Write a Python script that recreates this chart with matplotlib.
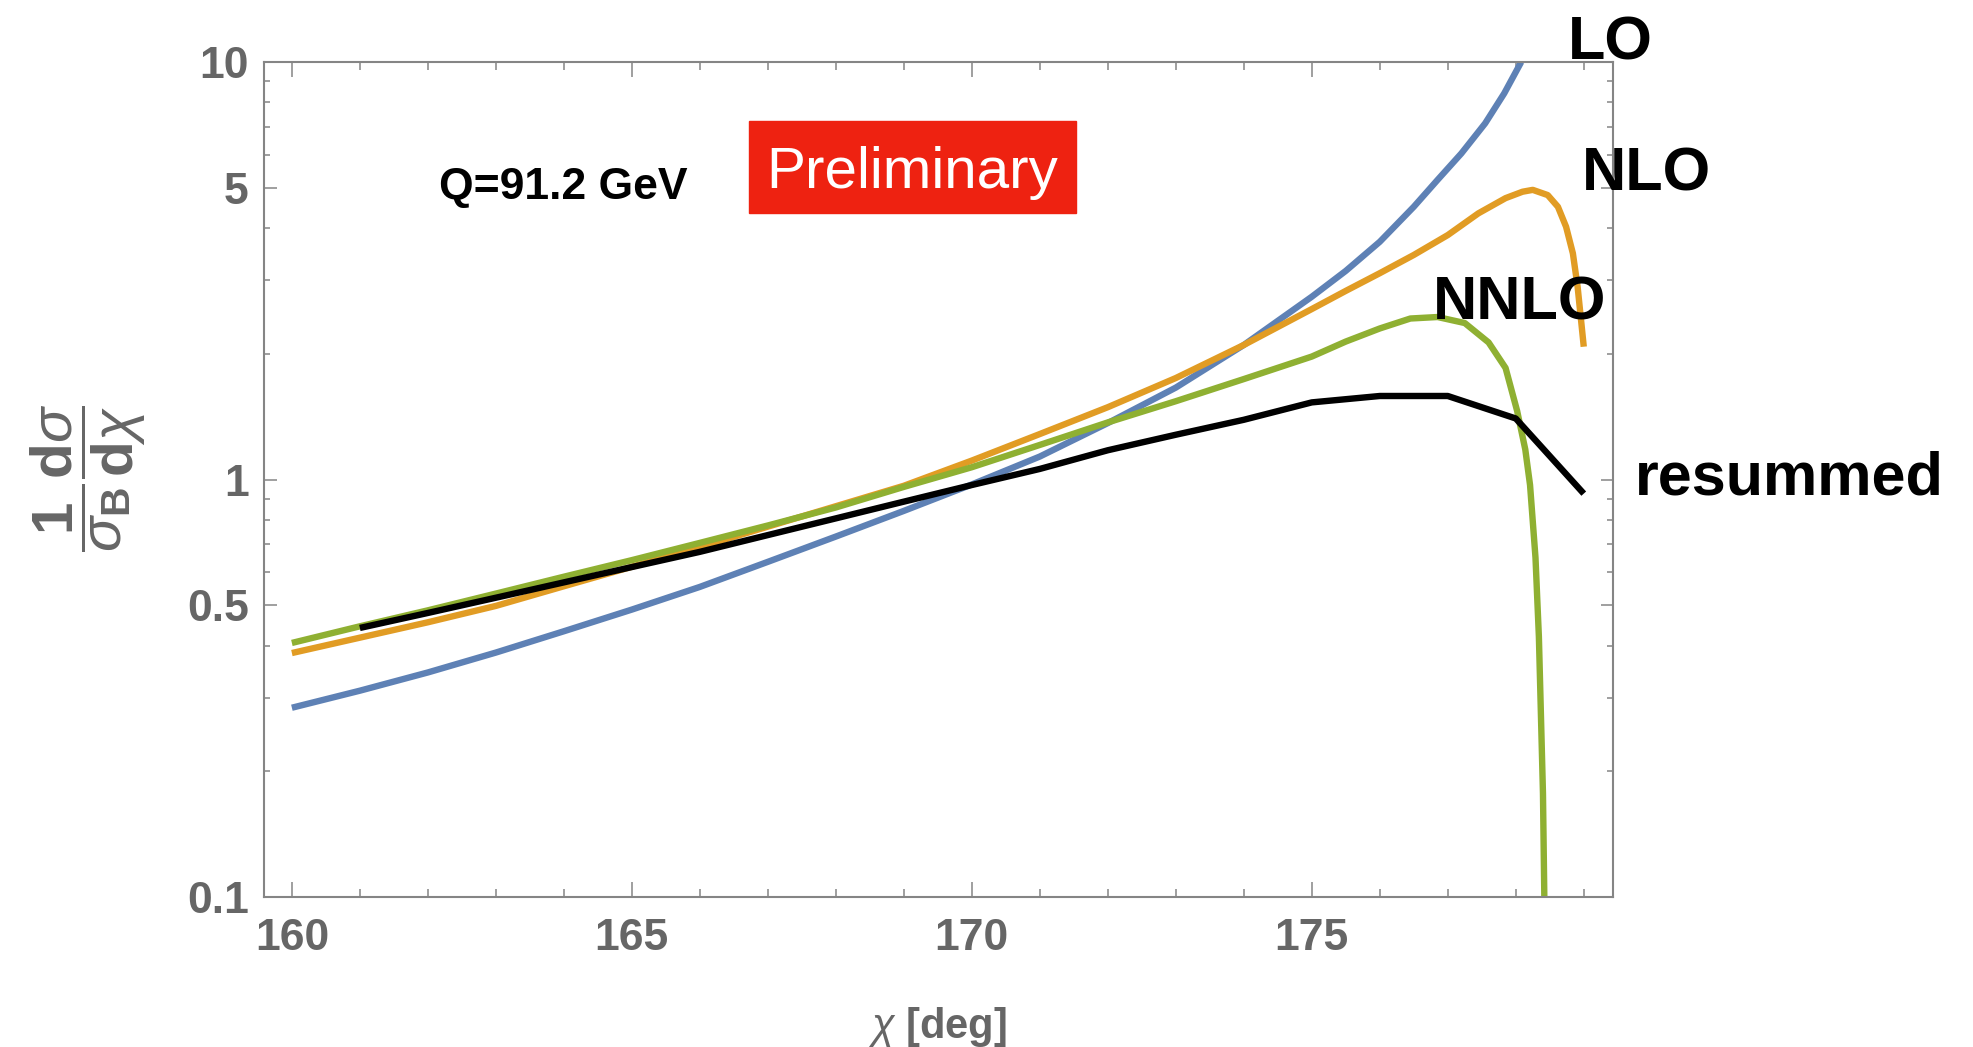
import matplotlib
matplotlib.use("Agg")
import matplotlib.pyplot as plt
from matplotlib.patches import Rectangle
from matplotlib.ticker import FixedLocator, FixedFormatter, NullFormatter

# LO
chi_lo = [160, 161, 162, 163, 164, 165, 166, 167, 168, 169, 170, 171, 172,
          173, 174, 175, 175.5, 176, 176.5, 176.85, 177.2, 177.55, 177.83,
          178.08]
lo = [0.284, 0.312, 0.345, 0.385, 0.433, 0.488, 0.553, 0.635, 0.730, 0.841,
      0.973, 1.135, 1.365, 1.66, 2.10, 2.74, 3.16, 3.71, 4.50, 5.22, 6.04,
      7.13, 8.41, 10.0]

# NLO
chi_nlo = [160, 161, 162, 163, 164, 165, 166, 167, 168, 169, 170, 171, 172,
           173, 174, 175, 175.5, 176, 176.5, 177, 177.45, 177.85, 178.1,
           178.25, 178.47, 178.62, 178.74, 178.84, 178.91, 178.96, 179.0]
nlo = [0.384, 0.418, 0.455, 0.498, 0.555, 0.618, 0.689, 0.771, 0.863, 0.966,
       1.11, 1.285, 1.49, 1.75, 2.10, 2.56, 2.83, 3.12, 3.45, 3.85, 4.34,
       4.72, 4.89, 4.94, 4.80, 4.50, 4.03, 3.48, 2.89, 2.41, 2.08]

# NNLO
chi_nnlo = [160, 161, 162, 163, 164, 165, 166, 167, 168, 169, 170, 171, 172,
            173, 174, 175, 175.5, 176, 176.45, 176.85, 177.25, 177.6, 177.85,
            178.02, 178.14, 178.21, 178.29, 178.34, 178.37, 178.40, 178.42,
            178.44]
nnlo = [0.406, 0.445, 0.486, 0.533, 0.585, 0.641, 0.705, 0.776, 0.857, 0.96,
        1.07, 1.21, 1.37, 1.54, 1.74, 1.97, 2.14, 2.30, 2.43, 2.45, 2.37,
        2.13, 1.85, 1.46, 1.18, 0.97, 0.65, 0.42, 0.273, 0.177, 0.10, 0.07]

# resummed, computed on integer angles
chi_res = list(range(161, 180))
res = [0.441, 0.479, 0.521, 0.567, 0.617, 0.671, 0.736, 0.807, 0.885, 0.97,
       1.06, 1.175, 1.28, 1.39, 1.53, 1.585, 1.585, 1.40, 0.925]

x_major = [160, 165, 170, 175]
x_minor = list(range(160, 180))
y_major = [0.1, 0.5, 1, 5, 10]
y_major_labels = ["0.1", "0.5", "1", "5", "10"]
y_minor = [0.2, 0.3, 0.4, 0.6, 0.7, 0.8, 0.9, 2, 3, 4, 6, 7, 8, 9]

W, H = 1973, 1047
FRAME = "#858585"
LABEL = "#666666"

plt.rcParams["font.family"] = ["Liberation Sans", "DejaVu Sans"]
plt.rcParams["mathtext.fontset"] = "custom"
plt.rcParams["mathtext.rm"] = "Liberation Sans"
plt.rcParams["mathtext.it"] = "Liberation Sans:italic"
plt.rcParams["mathtext.bf"] = "Liberation Sans:bold"


def px(x, y):
    # figure pixel (from top-left) -> figure fraction
    return x / W, 1 - y / H


fig = plt.figure(figsize=(W / 100, H / 100), dpi=100)
ax = fig.add_axes([264 / W, 1 - 897 / H, (1613 - 264) / W, (897 - 62) / H])

lw = 4.6
ax.plot(chi_lo, lo, color="#5E81B5", lw=lw, solid_capstyle="butt")
ax.plot(chi_nlo, nlo, color="#E19C24", lw=lw, solid_capstyle="butt")
ax.plot(chi_nnlo, nnlo, color="#8FB032", lw=lw, solid_capstyle="butt")
ax.plot(chi_res, res, color="black", lw=lw, solid_capstyle="butt")

ax.set_yscale("log")
ax.set_xlim(159.59, 179.43)
ax.set_ylim(0.1, 10)

ax.xaxis.set_major_locator(FixedLocator(x_major))
ax.xaxis.set_minor_locator(FixedLocator(x_minor))
ax.yaxis.set_major_locator(FixedLocator(y_major))
ax.yaxis.set_major_formatter(FixedFormatter(y_major_labels))
ax.yaxis.set_minor_locator(FixedLocator(y_minor))
ax.yaxis.set_minor_formatter(NullFormatter())

for s in ax.spines.values():
    s.set_color(FRAME)
    s.set_linewidth(1.5)

ax.tick_params(axis="both", which="both", direction="in", color=FRAME,
               top=True, right=True, width=1.1)
ax.tick_params(axis="x", which="major", length=11, pad=15)
ax.tick_params(axis="x", which="minor", length=6)
ax.tick_params(axis="y", which="major", length=9, pad=11)
ax.tick_params(axis="y", which="minor", length=4.5)
for lab in ax.get_xticklabels() + ax.get_yticklabels():
    lab.set_fontsize(32)
    lab.set_fontweight("bold")
    lab.set_color(LABEL)

# axis labels
fig.text(*px(937, 1038), r"$\chi\ \mathbf{[deg]}$", fontsize=30,
         color=LABEL, ha="center", va="baseline")
fig.text(*px(88, 478),
         r"$\dfrac{\mathbf{1}}{\sigma_{\mathbf{B}}}\dfrac{\mathbf{d}\sigma}{\mathbf{d}\chi}$",
         fontsize=42, color=LABEL, rotation=90, ha="center", va="center")

# curve names
fig.text(*px(1568, 60), "LO", fontsize=44, fontweight="bold", va="baseline")
fig.text(*px(1582, 191), "NLO", fontsize=44, fontweight="bold", va="baseline")
fig.text(*px(1433, 319), "NNLO", fontsize=44, fontweight="bold", va="baseline")
fig.text(*px(1635, 495), "resummed", fontsize=44, fontweight="bold",
         va="baseline")

fig.text(*px(439, 199), "Q=91.2 GeV", fontsize=32, fontweight="bold",
         va="baseline")

# red "Preliminary" stamp
x0, y0 = px(749, 213)
fig.patches.append(Rectangle((x0, y0), (1076 - 749) / W, (213 - 121) / H,
                             transform=fig.transFigure, color="#EE2211",
                             zorder=5))
fig.text(*px(912, 188), "Preliminary", fontsize=42, color="white",
         ha="center", va="baseline", zorder=6)

fig.savefig("out.png", dpi=100)
